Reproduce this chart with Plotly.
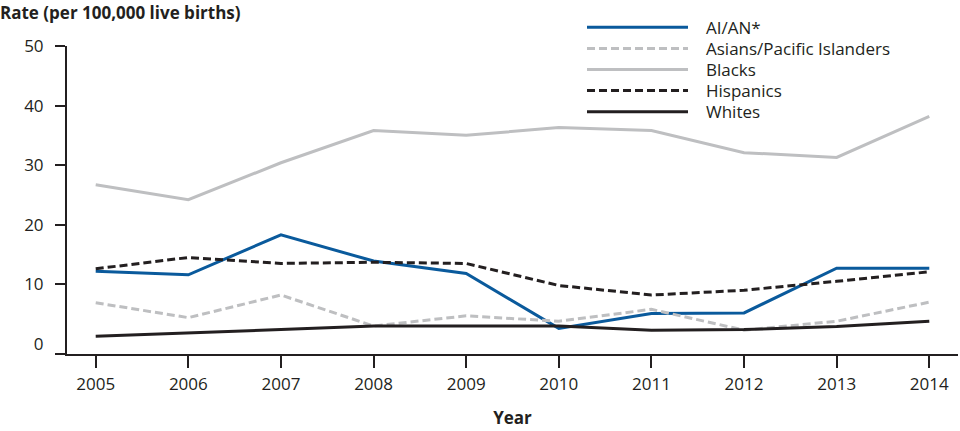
import plotly.graph_objects as go

years = [2005, 2006, 2007, 2008, 2009, 2010, 2011, 2012, 2013, 2014]
aian = [12.2, 11.6, 18.3, 13.9, 11.8, 2.6, 5.1, 5.2, 12.7, 12.7]
asian_pi = [6.9, 4.4, 8.2, 3.0, 4.7, 3.8, 5.8, 2.3, 3.8, 7.0]
blacks = [26.7, 24.2, 30.4, 35.8, 35.0, 36.3, 35.8, 32.1, 31.3, 38.2]
hispanics = [12.6, 14.5, 13.5, 13.7, 13.5, 9.8, 8.2, 9.0, 10.5, 12.1]
whites = [1.3, 1.8, 2.4, 3.0, 3.0, 3.0, 2.3, 2.4, 2.9, 3.8]

series_names = ["AI/AN*", "Asians/Pacific Islanders", "Blacks", "Hispanics", "Whites"]
series_values = [aian, asian_pi, blacks, hispanics, whites]
y_ticks = [0, 10, 20, 30, 40, 50]

colors = ["#0A5A9C", "#BEBFC1", "#BEBFC1", "#231F20", "#231F20"]
dashes = ["solid", "8px,4px", "solid", "8px,4px", "solid"]

FONT = "Open Sans"
INK = "#231F20"

# plot-area geometry (pixels) used for the hand-drawn legend
L, T, W, H = 67, 46, 891, 308

def px_x(x):
    return (x - L) / W

def px_y(y):
    return (T + H - y) / H

fig = go.Figure()
for name, vals, c, d in zip(series_names, series_values, colors, dashes):
    fig.add_trace(go.Scatter(x=years, y=vals, name=name, mode="lines",
                             line=dict(color=c, width=3, dash=d), showlegend=False))

# custom legend (long line samples like the reference)
leg_x0, leg_x1, leg_tx = 587, 688, 704
leg_y0, leg_dy = 27.3, 21.1
for i, (name, c, d) in enumerate(zip(series_names, colors, dashes)):
    yy = px_y(leg_y0 + i * leg_dy)
    fig.add_shape(type="line", xref="paper", yref="paper",
                  x0=px_x(leg_x0), x1=px_x(leg_x1), y0=yy, y1=yy,
                  line=dict(color=c, width=3, dash=d))
    fig.add_annotation(xref="paper", yref="paper", x=px_x(leg_tx), y=yy,
                       xanchor="left", yanchor="middle", text=name, showarrow=False,
                       font=dict(family=FONT, size=17, color=INK))

YMIN = -1.7
fig.update_layout(
    template="none",
    width=960, height=431,
    margin=dict(l=L, r=960 - L - W, t=T, b=431 - T - H, pad=0),
    paper_bgcolor="white", plot_bgcolor="white",
    font=dict(family=FONT, size=17, color=INK),
    title=dict(text="<b>Rate (per 100,000 live births)</b>", x=0, xref="container",
               xanchor="left", y=1 - 13 / 431, yanchor="middle",
               font=dict(family=FONT, size=17, color=INK)),
    showlegend=False,
    xaxis=dict(range=[2004.69, 2014.31], tickvals=years, ticks="outside", ticklen=12,
               tickwidth=2, tickcolor=INK, showline=True, linewidth=2, linecolor=INK,
               showgrid=False, zeroline=False, tickfont=dict(size=17), automargin=False,
               ticklabelstandoff=2,
               title=dict(text="<b>Year</b>", font=dict(size=17), standoff=18)),
    yaxis=dict(range=[YMIN, 50], tickvals=y_ticks, ticks="", showline=True, linewidth=2,
               linecolor=INK, showgrid=False, zeroline=False, tickfont=dict(size=17),
               ticklabelstandoff=18, automargin=False,
               minor=dict(tickvals=[YMIN, 10, 20, 30, 40, 50], ticks="outside", ticklen=10,
                          tickwidth=2, tickcolor=INK, showgrid=False)),
)

fig.write_html("out.html", config={"displayModeBar": False},
               post_script="document.body.style.margin='0px';")
